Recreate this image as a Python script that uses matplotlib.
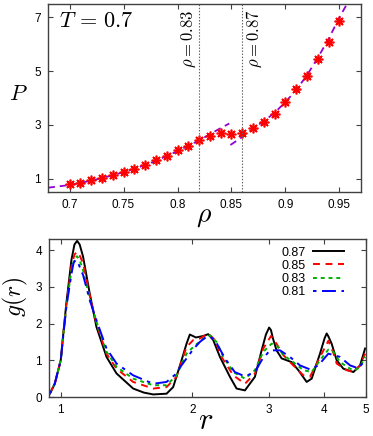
import numpy as np
import matplotlib
matplotlib.use('Agg')
import matplotlib.pyplot as plt
from matplotlib.ticker import FixedLocator, NullLocator, FixedFormatter

plt.rcParams['font.family'] = ['Liberation Sans', 'DejaVu Sans']
plt.rcParams['mathtext.fontset'] = 'cm'
plt.rcParams['lines.scale_dashes'] = False

# equation of state, T = 0.7
rho = [0.70, 0.71, 0.72, 0.73, 0.74, 0.75, 0.76, 0.77, 0.78, 0.79, 0.80, 0.81, 0.82,
       0.83, 0.84, 0.85, 0.86, 0.87, 0.88, 0.89, 0.90, 0.91, 0.92, 0.93, 0.94, 0.95]
P = [0.79, 0.84, 0.94, 1.02, 1.14, 1.25, 1.36, 1.51, 1.68, 1.85, 2.05, 2.22, 2.42,
     2.57, 2.69, 2.66, 2.71, 2.87, 3.09, 3.40, 3.84, 4.35, 4.82, 5.47, 6.10, 6.85]

# fitted branches (liquid / solid)
fit_liq_rho = [0.68, 0.70, 0.72, 0.74, 0.76, 0.78, 0.80, 0.82, 0.84, 0.848]
fit_liq_P = [0.66, 0.76, 0.92, 1.12, 1.36, 1.66, 2.02, 2.42, 2.88, 3.05]
fit_sol_rho = [0.849, 0.86, 0.87, 0.88, 0.89, 0.90, 0.91, 0.92, 0.93, 0.94, 0.95, 0.957]
fit_sol_P = [2.25, 2.55, 2.86, 3.14, 3.45, 3.85, 4.30, 4.85, 5.50, 6.20, 7.00, 7.50]

coex_lines = [0.82, 0.86]
coex_labels = [r'$\rho=0.83$', r'$\rho=0.87$']

# radial distribution functions
r_087 = [0.944, 0.969, 1.000, 1.015, 1.030, 1.058, 1.075, 1.090, 1.105, 1.125, 1.165, 1.207,
         1.273, 1.342, 1.465, 1.550, 1.628, 1.747, 1.809, 1.891, 1.941, 1.975, 2.040, 2.120,
         2.176, 2.234, 2.315, 2.440, 2.527, 2.641, 2.784, 2.884, 2.950, 3.000, 3.030, 3.060,
         3.120, 3.205, 3.378, 3.500, 3.657, 3.755, 3.923, 4.020, 4.064, 4.100, 4.172, 4.284,
         4.437, 4.679, 4.846, 4.976]
g_087 = [0.09, 0.36, 1.00, 1.80, 2.55, 3.73, 4.15, 4.25, 4.15, 3.82, 2.82, 1.91,
         1.09, 0.64, 0.23, 0.12, 0.07, 0.09, 0.27, 1.00, 1.45, 1.70, 1.62, 1.66,
         1.71, 1.55, 1.09, 0.55, 0.23, 0.18, 0.55, 1.27, 1.70, 1.89, 1.82, 1.60,
         1.27, 1.05, 0.95, 0.73, 0.41, 0.50, 1.18, 1.60, 1.73, 1.65, 1.45, 1.00,
         0.77, 0.68, 0.86, 1.32]

r_085 = [0.944, 0.969, 1.000, 1.015, 1.030, 1.058, 1.075, 1.090, 1.105, 1.125, 1.165, 1.207,
         1.273, 1.342, 1.465, 1.628, 1.747, 1.841, 1.941, 2.011, 2.083, 2.176, 2.254, 2.335,
         2.483, 2.641, 2.784, 2.909, 3.030, 3.120, 3.233, 3.408, 3.593, 3.722, 3.889, 4.100,
         4.210, 4.284, 4.516, 4.679, 4.846, 4.976]
g_085 = [0.09, 0.36, 1.00, 1.78, 2.50, 3.55, 3.88, 3.95, 3.85, 3.64, 2.77, 2.00,
         1.18, 0.77, 0.41, 0.23, 0.27, 0.55, 1.36, 1.55, 1.59, 1.73, 1.55, 1.09,
         0.59, 0.36, 0.64, 1.32, 1.66, 1.45, 1.14, 0.86, 0.59, 0.55, 1.00, 1.53,
         1.20, 0.91, 0.73, 0.68, 0.86, 1.18]

r_083 = [0.944, 0.969, 1.000, 1.015, 1.030, 1.058, 1.075, 1.090, 1.105, 1.125, 1.165, 1.207,
         1.273, 1.342, 1.465, 1.628, 1.747, 1.841, 1.941, 2.011, 2.120, 2.195, 2.274, 2.356,
         2.483, 2.641, 2.784, 2.909, 3.040, 3.120, 3.233, 3.408, 3.593, 3.755, 3.923, 4.100,
         4.210, 4.360, 4.597, 4.720, 4.846, 4.976]
g_083 = [0.09, 0.36, 1.00, 1.76, 2.48, 3.45, 3.77, 3.83, 3.72, 3.45, 2.68, 2.05,
         1.23, 0.82, 0.50, 0.32, 0.32, 0.59, 1.18, 1.36, 1.59, 1.68, 1.50, 1.09,
         0.68, 0.50, 0.73, 1.23, 1.45, 1.41, 1.14, 0.95, 0.73, 0.68, 1.00, 1.29,
         1.23, 0.95, 0.77, 0.73, 0.82, 1.09]

r_081 = [0.944, 0.969, 1.000, 1.015, 1.030, 1.058, 1.070, 1.082, 1.100, 1.125, 1.165, 1.207,
         1.273, 1.342, 1.465, 1.628, 1.747, 1.841, 1.874, 1.941, 2.011, 2.083, 2.157, 2.195,
         2.254, 2.315, 2.378, 2.503, 2.641, 2.784, 2.884, 3.013, 3.177, 3.349, 3.530, 3.722,
         3.889, 4.100, 4.360, 4.597, 4.803, 4.976]
g_081 = [0.09, 0.36, 1.00, 1.74, 2.45, 3.35, 3.65, 3.73, 3.60, 3.32, 2.64, 2.09,
         1.32, 0.91, 0.59, 0.36, 0.41, 0.64, 0.80, 1.05, 1.30, 1.50, 1.64, 1.65,
         1.55, 1.30, 1.05, 0.68, 0.56, 0.68, 1.00, 1.27, 1.27, 1.09, 0.86, 0.75,
         0.86, 1.18, 1.09, 0.86, 0.78, 1.00]

spine_col = '#404040'


def style_axes(ax):
    for s in ax.spines.values():
        s.set_color(spine_col)
        s.set_linewidth(1.0)
    ax.tick_params(which='both', direction='in', top=True, right=True,
                   length=3.5, width=0.8, color=spine_col, labelsize=8.5, pad=5)


fig = plt.figure(figsize=(3.73, 4.36), dpi=100)

# ---- top panel: P(rho)
ax1 = fig.add_axes([48 / 373, 1 - 192 / 436, 313 / 373, 188 / 436])
ax1.plot(fit_liq_rho, fit_liq_P, color='#9400d3', lw=1.3, dashes=(5, 3.5))
ax1.plot(fit_sol_rho, fit_sol_P, color='#9400d3', lw=1.3, dashes=(5, 3.5))
ax1.plot(rho, P, ls='none', marker=(8, 2, 0), ms=7, mew=1.2, color='red')
for xv, lab, dx, ha in zip(coex_lines, coex_labels, [-0.0008, 0.0025], ['right', 'left']):
    ax1.axvline(xv, color='#606060', lw=0.8, ls=(0, (1, 1.2)))
    ax1.text(xv + dx, 7.3, lab, rotation=90, ha=ha, va='top', fontsize=12)
ax1.text(0.6898, 6.85, r'$T\,=\,0.7$', fontsize=16, ha='left', va='center')
ax1.set_xlim(0.68, 0.97)
ax1.set_ylim(0.5, 7.5)
ax1.set_xticks([0.7, 0.75, 0.8, 0.85, 0.9, 0.95])
ax1.set_xticklabels(['0.7', '0.75', '0.8', '0.85', '0.9', '0.95'])
ax1.set_yticks([1, 3, 5, 7])
style_axes(ax1)
ax1.set_xlabel(r'$\rho$', fontsize=20, va='center')
ax1.xaxis.set_label_coords(0.5, -0.13)
ax1.set_ylabel(r'$P$', fontsize=16, rotation=0, va='center', ha='center')
ax1.yaxis.set_label_coords(-0.095, 0.52)

# ---- bottom panel: g(r)
ax2 = fig.add_axes([49 / 373, 1 - 397 / 436, 317 / 373, 158 / 436])
ax2.plot(r_087, g_087, color='black', lw=1.4, label='0.87')
ax2.plot(r_085, g_085, color='red', lw=1.4, dashes=(5, 4), label='0.85')
ax2.plot(r_083, g_083, color='#00b000', lw=1.4, dashes=(2.8, 2.8), label='0.83')
ax2.plot(r_081, g_081, color='blue', lw=1.4, dashes=(2.5, 4, 10, 4), label='0.81')
ax2.set_xscale('log')
ax2.set_xlim(0.94, 5.0)
ax2.set_ylim(0, 4.3)
ax2.xaxis.set_major_locator(FixedLocator([1, 2, 3, 4, 5]))
ax2.xaxis.set_major_formatter(FixedFormatter(['1', '2', '3', '4', '5']))
ax2.xaxis.set_minor_locator(NullLocator())
ax2.set_yticks([0, 1, 2, 3, 4])
style_axes(ax2)
ax2.set_xlabel(r'$r$', fontsize=22, va='center')
ax2.xaxis.set_label_coords(0.495, -0.15)
ax2.set_ylabel(r'$g(r)$', fontsize=17, va='center', ha='center')
ax2.yaxis.set_label_coords(-0.107, 0.63)
ax2.legend(loc='upper right', bbox_to_anchor=(0.955, 1.0), frameon=False, fontsize=9,
           markerfirst=False, handlelength=2.5, handletextpad=0.6, labelspacing=0.1,
           borderaxespad=0.2)

fig.savefig('out.png', dpi=100)
